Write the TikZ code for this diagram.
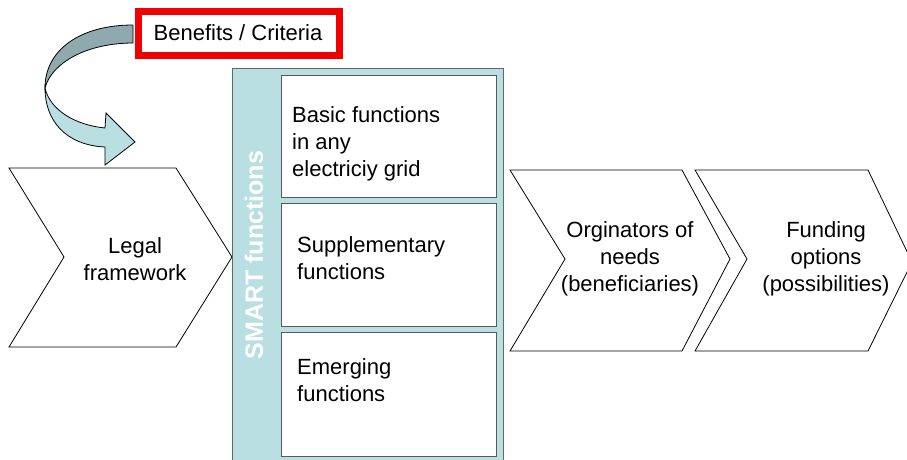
\documentclass[tikz,border=0pt]{standalone}
\usepackage{fontspec}
\setmainfont{Liberation Sans}
\usepackage{tikz}
\usetikzlibrary{shapes}
\definecolor{paleblue}{RGB}{185,223,227}
\definecolor{backblue}{RGB}{143,170,174}
\definecolor{benefitred}{RGB}{240,0,0}
\tikzset{
  label text/.style = {font = \fontsize{22}{27}\selectfont, inner sep = 0, align = center},
  box text/.style = {font = \fontsize{22}{27}\selectfont, inner sep = 0, align = left, anchor = west},
  fbox/.style = {draw = black!65, fill = white, line width = .8pt},
  chevron/.style = {draw = black, fill = white, line width = .8pt}
}
\begin{document}
\begin{tikzpicture}[x = 1pt, y = -1pt]
 \useasboundingbox (0, 0) rectangle (907, 459);
  % curved arrow from the criteria box
  \filldraw[line width = .8pt, fill = backblue] (133, 25) .. controls (80, 25) and (45, 50) .. (45, 88) .. controls (52, 62) and (88, 43) .. (133, 43) -- cycle;
  \filldraw[line width = .8pt, fill = paleblue] (45, 88) .. controls (50, 110) and (75, 125) .. (105, 128) -- (106, 113) -- (135, 142) -- (105, 165) -- (105, 147) .. controls (65, 145) and (45, 120) .. (45, 88) -- cycle;
  \draw[benefitred, line width = 7pt] (138.5, 11.5) rectangle (339.5, 55.5);
  \node[label text] (crit) at (238, 33) {Benefits / Criteria};
  % chevrons
  \filldraw[chevron] (9, 168) -- (176, 168) -- (232, 257) -- (176, 347) -- (9, 347) -- (64, 257) -- cycle;
  \node[label text] (legal) at (135, 259) {Legal\\framework};
  \filldraw[chevron] (510, 170) -- (682, 170) -- (730, 259) -- (682, 351) -- (510, 351) -- (565, 259) -- cycle;
  \node[label text] (orig) at (630, 259) {Orginators of\\needs\\(beneficiaries)};
  \filldraw[chevron] (695, 170) -- (868, 170) -- (912, 262) -- (868, 351) -- (695, 351) -- (747, 259) -- cycle;
  \node[label text] (fund) at (826, 259) {Funding\\options\\(possibilities)};
  % SMART panel
  \fill[paleblue] (232, 68) rectangle (503, 462);
  \draw[black!60, line width = 1pt] (232, 462) -- (232, 68) -- (503, 68) -- (503, 462);
  \node[rotate = 90, text = white, font = \fontsize{25}{30}\selectfont\bfseries, inner sep = 0] (smart) at (254, 255) {SMART functions};
  \filldraw[fbox] (281, 75) rectangle (496, 197);
  \filldraw[fbox] (281, 203) rectangle (496, 326);
  \filldraw[fbox] (281, 332) rectangle (496, 456);
  \node[box text] (basic) at (292, 144) {Basic functions\\in any\\electriciy grid};
  \node[box text] (supp) at (297, 258) {Supplementary\\functions};
  \node[box text] (emerg) at (297, 380) {Emerging\\functions};
 \end{tikzpicture}
\end{document}
